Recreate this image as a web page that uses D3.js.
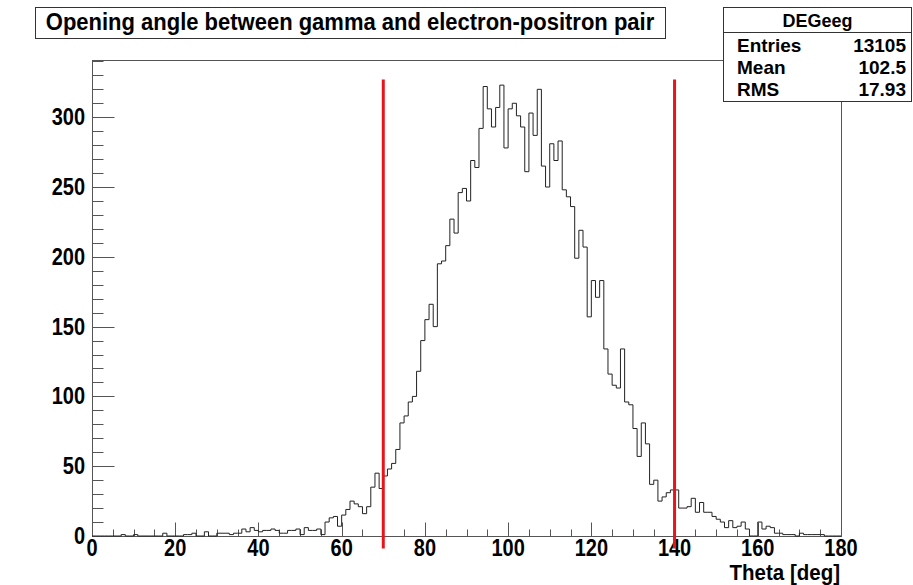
<!DOCTYPE html>
<html>
<head>
<meta charset="utf-8">
<script src="https://cdn.jsdelivr.net/npm/d3@7"></script>
<style>
  html, body { margin: 0; padding: 0; background: #fff; }
  svg { display: block; }
  text { font-family: "Liberation Sans", Arial, Helvetica, sans-serif; font-weight: bold; fill: #000; }
</style>
</head>
<body>
<svg id="chart" width="913" height="585"></svg>
<script>
// Histogram DEGeeg: 180 bins of 1 degree from 0 to 180
const binLow = 0;
const binWidth = 1;
const counts = [
  0,0,0,0,0,0,0,1,0,0,
  1,0,0,0,0,0,0,2,0,0,
  0,0,1,1,2,0,0,3,0,0,
  2,2,2,1,2,2,5,3,6,4,
  3,4,4,5,4,2,2,4,4,5,
  1,6,4,4,5,1,10,13,14,7,
  15,19,25,23,21,16,21,35,45,34,
  43,48,52,62,81,86,96,100,118,140,
  155,166,150,195,197,208,227,217,246,249,
  240,269,264,292,322,306,293,307,323,278,
  306,310,301,293,261,303,287,320,265,250,
  281,269,283,248,243,236,199,219,207,157,
  183,171,183,134,116,108,106,134,96,94,
  77,57,81,66,37,40,25,28,31,33,
  33,20,20,21,27,17,24,17,17,14,
  12,10,6,11,6,7,10,5,0,0,
  10,5,7,6,2,2,1,1,1,0,
  2,1,1,1,1,1,0,0,0,0
];

// Cut lines on the opening angle
const cuts = [70, 140];
const cutSpan = [-9, 327];

// Axis ranges and ticks
const xDomain = [0, 180];
const yDomain = [0, 341];
const xMajorTicks = [0, 20, 40, 60, 80, 100, 120, 140, 160, 180];
const yMajorTicks = [0, 50, 100, 150, 200, 250, 300];

// Text
const titleText = "Opening angle between gamma and electron-positron pair";
const xTitle = "Theta [deg]";
const statsName = "DEGeeg";
const statsLabels = ["Entries", "Mean", "RMS"];
const statsValues = ["13105", "102.5", "17.93"];

const svg = d3.select("#chart");
const frame = { left: 92, right: 841, top: 60, bottom: 536 };

const x = d3.scaleLinear().domain(xDomain).range([frame.left, frame.right]);
const y = d3.scaleLinear().domain(yDomain).range([frame.bottom, frame.top]);

const crisp = v => Math.round(v) + 0.5;

// bold label, slightly stretched vertically like the ROOT canvas font
function label(g, px, py, str, size, anchor, sy) {
  return g.append("text")
    .attr("transform", `translate(${px},${py}) scale(1,${sy})`)
    .attr("text-anchor", anchor)
    .attr("font-size", size)
    .text(str);
}

// frame box
svg.append("rect")
  .attr("x", crisp(frame.left)).attr("y", crisp(frame.top))
  .attr("width", Math.round(frame.right - frame.left)).attr("height", Math.round(frame.bottom - frame.top))
  .attr("fill", "none").attr("stroke", "#555").attr("stroke-width", 1);

// x axis ticks (inside the frame, pointing up)
const xMinor = d3.range(xDomain[0], xDomain[1] + 0.001, 5);
svg.append("g").selectAll("line").data(xMinor).join("line")
  .attr("x1", d => crisp(x(d))).attr("x2", d => crisp(x(d)))
  .attr("y1", crisp(frame.bottom))
  .attr("y2", d => crisp(frame.bottom) - (d % 20 === 0 ? 14 : 7))
  .attr("stroke", "#555").attr("stroke-width", 1);

const gx = svg.append("g");
xMajorTicks.forEach(d => label(gx, x(d), 556, d, 20, "middle", 1.15));

// y axis ticks (inside the frame, pointing right)
const yMinor = d3.range(yDomain[0], yDomain[1], 10);
svg.append("g").selectAll("line").data(yMinor).join("line")
  .attr("y1", d => crisp(y(d))).attr("y2", d => crisp(y(d)))
  .attr("x1", crisp(frame.left))
  .attr("x2", d => crisp(frame.left) + (d % 50 === 0 ? 22 : 11))
  .attr("stroke", "#555").attr("stroke-width", 1);

const gy = svg.append("g");
yMajorTicks.forEach(d => label(gy, 85, y(d) + 8, d, 20, "end", 1.15));

// x axis title
label(svg, 840, 580, xTitle, 20.5, "end", 1.12);

// histogram outline as a step path
const pts = [[x(binLow), y(0)]];
counts.forEach((c, i) => {
  const x0 = x(binLow + i * binWidth), x1 = x(binLow + (i + 1) * binWidth);
  pts.push([x0, y(c)], [x1, y(c)]);
});
pts.push([x(binLow + counts.length * binWidth), y(0)]);
svg.append("path")
  .attr("d", d3.line()(pts))
  .attr("fill", "none").attr("stroke", "#222").attr("stroke-width", 1);

// cut lines
svg.append("g").selectAll("line").data(cuts).join("line")
  .attr("x1", d => x(d)).attr("x2", d => x(d))
  .attr("y1", y(cutSpan[0])).attr("y2", y(cutSpan[1]))
  .attr("stroke", "#e8141c").attr("stroke-width", 3);

// title box
svg.append("rect")
  .attr("x", 35.5).attr("y", 7.5).attr("width", 630).attr("height", 31)
  .attr("fill", "#fff").attr("stroke", "#333");
label(svg, 350, 30, titleText, 22, "middle", 1.06);

// statistics box
const sb = { x: 723.5, y: 7.5, w: 188, h: 94 };
svg.append("rect")
  .attr("x", sb.x).attr("y", sb.y).attr("width", sb.w).attr("height", sb.h)
  .attr("fill", "#fff").attr("stroke", "#333");
svg.append("line")
  .attr("x1", sb.x).attr("x2", sb.x + sb.w).attr("y1", 32.5).attr("y2", 32.5)
  .attr("stroke", "#333");
label(svg, sb.x + sb.w / 2, 27, statsName, 18, "middle", 1.05);
statsLabels.forEach((lab, i) => {
  const yy = 52 + i * 22;
  label(svg, 737, yy, lab, 19, "start", 1.0);
  label(svg, 906, yy, statsValues[i], 19, "end", 1.0);
});
</script>
</body>
</html>
